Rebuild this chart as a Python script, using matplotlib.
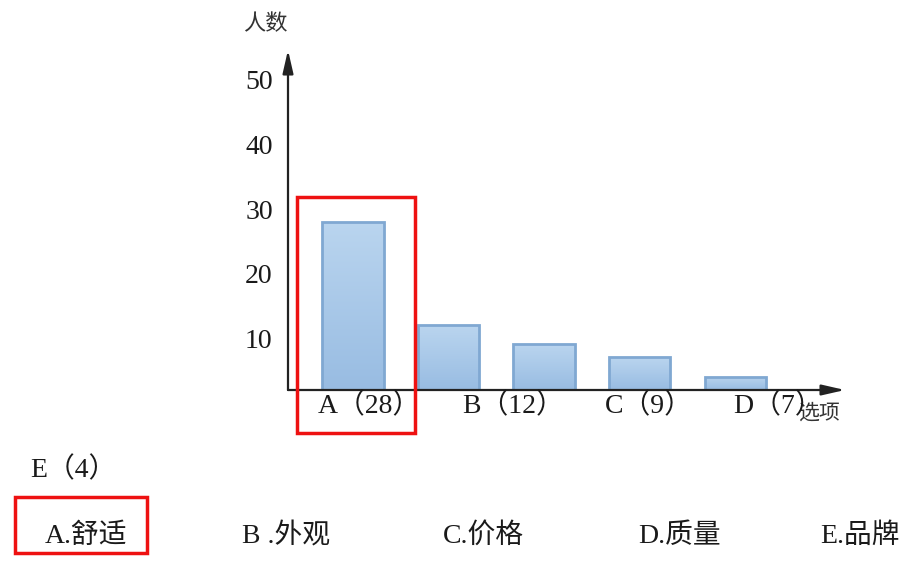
import matplotlib
matplotlib.use('Agg')
import matplotlib.pyplot as plt
import numpy as np
from matplotlib.colors import LinearSegmentedColormap
from matplotlib.patches import Rectangle

# data
categories = ['A', 'B', 'C', 'D', 'E']
counts = [28, 12, 9, 7, 4]
option_names = ['舒适', '外观', '价格', '质量', '品牌']
y_ticks = [10, 20, 30, 40, 50]

FONT = ['Liberation Serif', 'Noto Sans CJK SC', 'DejaVu Sans']
plt.rcParams['font.family'] = FONT

W, H = 919, 566
fig = plt.figure(figsize=(W / 100, H / 100), dpi=100)


def fx(px):
    return px / W


def fy(py):
    return 1 - py / H


# axes box in pixels: x 288..845, y 50..390
ax = fig.add_axes([fx(288), fy(390), fx(845) - fx(288), fy(50) - fy(390)])
base = 1.94  # the drawn baseline sits a little above zero
top = 54.65
for s in ax.spines.values():
    s.set_visible(False)

x = list(range(len(categories)))
bars = ax.bar(x, [c - base for c in counts], bottom=base, width=0.64,
              color='none', edgecolor='#80a8d2', linewidth=2, zorder=3)

# vertical gradient fill, lighter on top
cmap = LinearSegmentedColormap.from_list('bar', ['#98bce2', '#bad5ef'])
grad = np.linspace(0, 1, 256).reshape(-1, 1)
for b in bars:
    x0, y0 = b.get_x(), b.get_y()
    im = ax.imshow(grad, cmap=cmap, origin='lower', aspect='auto',
                   extent=[x0, x0 + b.get_width(), y0, y0 + b.get_height()],
                   zorder=2)
    im.set_clip_path(b)
ax.set_xlim(-0.68, 5.15)
ax.set_ylim(base, top)

ax.set_xticks([])
ax.set_yticks(y_ticks)
ax.set_yticklabels([str(t) for t in y_ticks], fontsize=20, color='#1a1a1a')
ax.tick_params(axis='y', length=0, pad=11)

# axes arrows
arrow = dict(arrowstyle='-|>,head_width=0.16,head_length=0.7', color='#222222',
             lw=1.6, mutation_scale=20, shrinkA=0, shrinkB=0)
ax.annotate('', xy=(0, 1.0), xytext=(0, 0), xycoords='axes fraction',
            arrowprops=arrow)
ax.annotate('', xy=(1.0, 0), xytext=(0, 0), xycoords='axes fraction',
            arrowprops=arrow)

# axis titles
fig.text(fx(243), fy(25), '人数', fontsize=16, color='#333333', va='center')
fig.text(fx(798), fy(414), '选项', fontsize=15, color='#333333', va='center')

# category labels under the axis (E wraps to the next line)
label_pos = [(318, 406), (462, 406), (605, 406), (733, 406), (30, 470)]
for (px, py), cat, n in zip(label_pos, categories, counts):
    fig.text(fx(px), fy(py), f'{cat}（{n}）', fontsize=20, color='#1a1a1a',
             va='center')

# option legend row
option_pos = [45, 242, 443, 638, 820]
for px, cat, name in zip(option_pos, categories, option_names):
    sep = ' .' if cat == 'B' else '.'
    fig.text(fx(px), fy(536), f'{cat}{sep}{name}', fontsize=20,
             color='#1a1a1a', va='center')

# red highlight boxes
for (x0, y0, x1, y1) in [(297, 197, 415, 433), (15, 497, 147, 553)]:
    fig.patches.append(Rectangle((fx(x0), fy(y1)), fx(x1) - fx(x0),
                                 fy(y0) - fy(y1), transform=fig.transFigure,
                                 fill=False, edgecolor='#ee1111', linewidth=2.5))

fig.savefig('out.png', dpi=100)
